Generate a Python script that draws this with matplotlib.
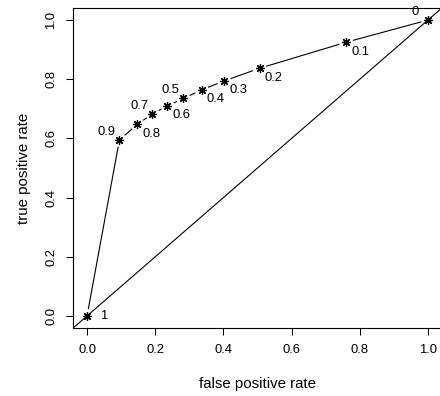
import numpy as np
import matplotlib
matplotlib.use("Agg")
import matplotlib.pyplot as plt

plt.rcParams['font.family'] = ['Liberation Sans', 'DejaVu Sans']

# ROC curve points, one per cutoff
cutoffs = ["0", "0.1", "0.2", "0.3", "0.4", "0.5", "0.6", "0.7", "0.8", "0.9", "1"]
fpr = [1.0, 0.760, 0.506, 0.402, 0.336, 0.282, 0.236, 0.192, 0.148, 0.095, 0.0]
tpr = [1.0, 0.925, 0.837, 0.794, 0.764, 0.735, 0.710, 0.683, 0.648, 0.595, 0.0]
label_side = ["ul", "lr", "lr", "lr", "lr", "ul", "lr", "ul", "lr", "ul", "r"]

ticks = [0.0, 0.2, 0.4, 0.6, 0.8, 1.0]
tick_labels = ["0.0", "0.2", "0.4", "0.6", "0.8", "1.0"]

W, H = 440, 396
DPI = 100
PX = 72 / DPI
FS_TICK = 13 * PX
FS_LAB = 15 * PX
FS_CUT = 13 * PX

fig = plt.figure(figsize=(W / DPI, H / DPI), dpi=DPI)
x0, x1, y0, y1 = 73.4, 441.6, 8.2, 327.8
ax = fig.add_axes([x0 / W, 1 - y1 / H, (x1 - x0) / W, (y1 - y0) / H])
ax.set_xlim(-0.04, 1.04)
ax.set_ylim(-0.04, 1.04)

for s in ax.spines.values():
    s.set_linewidth(0.8)
    s.set_color("black")

ax.set_xticks(ticks)
ax.set_xticklabels(tick_labels)
ax.set_yticks(ticks)
ax.set_yticklabels(tick_labels, rotation=90, va="center")
ax.tick_params(direction="out", length=5.0, width=0.75, labelsize=FS_TICK, colors="black")
ax.tick_params(axis="x", pad=7.0)
ax.tick_params(axis="y", pad=6.5)

ax.set_xlabel("false positive rate", fontsize=FS_LAB)
ax.set_ylabel("true positive rate", fontsize=FS_LAB)
ax.xaxis.set_label_coords(0.5, -0.176)
ax.xaxis.label.set_va("center")
ax.yaxis.set_label_coords(-0.135, 0.5)
ax.yaxis.label.set_va("center")

# chance diagonal
ax.axline((0, 0), slope=1, color="black", lw=0.8)

# curve segments with a gap around each point
gap = 7.5
pts = ax.transData.transform(np.column_stack([fpr, tpr]))
inv = ax.transData.inverted()
for i in range(len(pts) - 1):
    p, q = pts[i], pts[i + 1]
    d = q - p
    L = np.hypot(*d)
    if L <= 2 * gap:
        continue
    u = d / L
    a = inv.transform(p + u * gap)
    b = inv.transform(q - u * gap)
    ax.plot([a[0], b[0]], [a[1], b[1]], color="black", lw=0.8, clip_on=False)

ax.plot(fpr, tpr, linestyle="none", marker=(8, 2, 0), markersize=6.2,
        markeredgewidth=0.9, color="black", clip_on=False)

offsets = {"ul": (-13, 8), "lr": (14, -9.5), "r": (17, 0)}
for x, y, lab, side in zip(fpr, tpr, cutoffs, label_side):
    dx, dy = offsets[side]
    ax.annotate(lab, (x, y), xytext=(dx * PX, dy * PX), textcoords="offset points",
                ha="center", va="center", fontsize=FS_CUT)

fig.savefig("out.png", dpi=DPI)
